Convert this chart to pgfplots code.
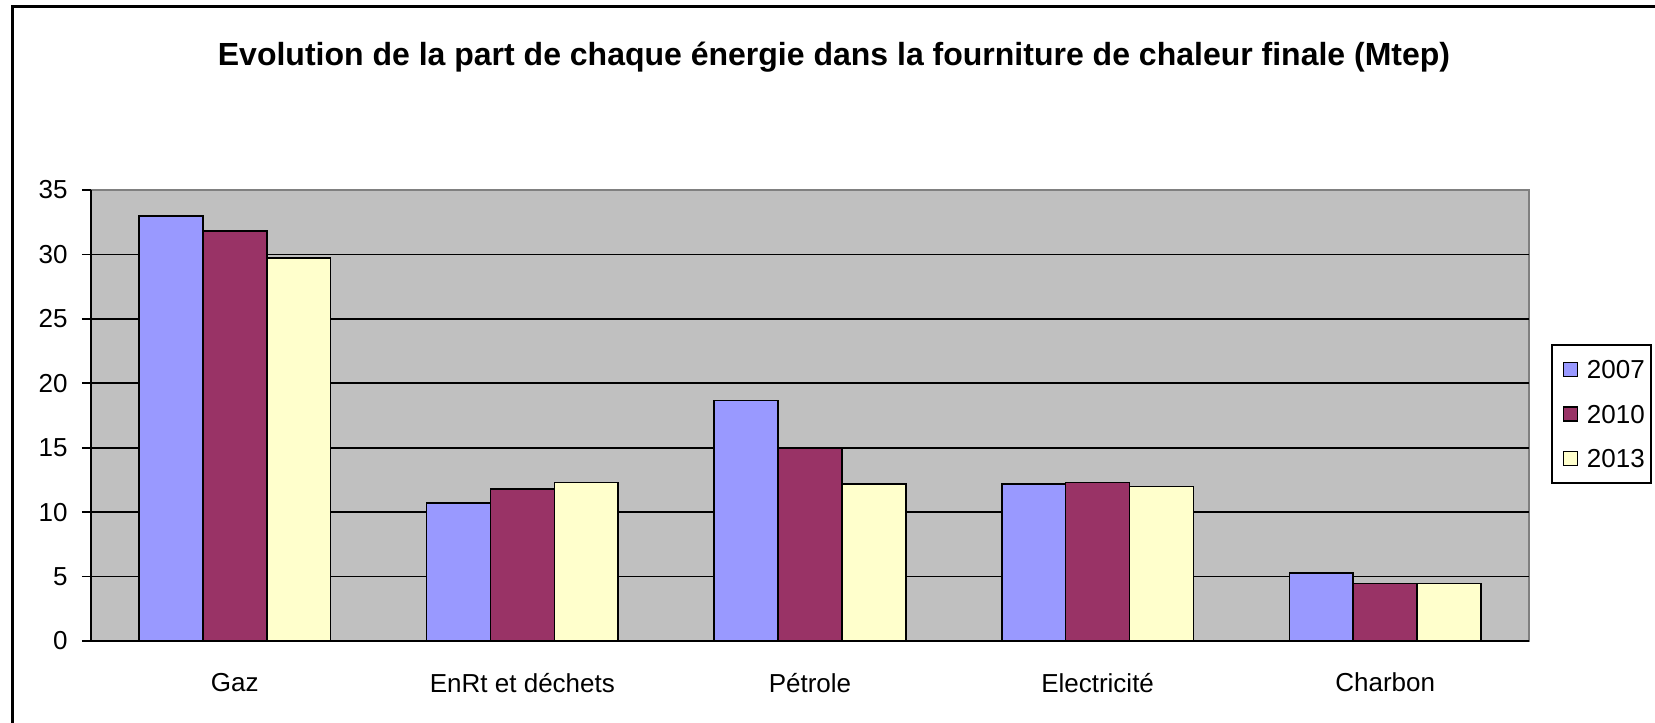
\documentclass[border=0pt]{standalone}
\usepackage{pgfplots}
\pgfplotsset{compat=1.18}
\usepackage{fontspec}
\setmainfont{Liberation Sans}
\definecolor{c2007}{HTML}{9999FF}
\definecolor{c2010}{HTML}{993366}
\definecolor{c2013}{HTML}{FFFFCC}
\definecolor{plotbg}{HTML}{C0C0C0}
\definecolor{plotframe}{HTML}{808080}
\begin{document}
\begin{tikzpicture}
\useasboundingbox (-45.5pt,-41pt) rectangle (782pt,320.5pt);
\draw[line width=1.5pt] (-39pt,-45pt) -- (-39pt,317pt) -- (790pt,317pt);
\node[font=\bfseries\fontsize{16}{19}\selectfont] at (371.5pt,292pt) {Evolution de la part de chaque énergie dans la fourniture de chaleur finale (Mtep)};
\begin{axis}[
  at={(0,0)}, anchor=south west,
  scale only axis,
  width=719pt, height=225.5pt,
  xmin=-0.5, xmax=4.5,
  ymin=0, ymax=35,
  axis lines=left,
  axis line style={-, black, line width=0.9pt},
  axis background/.style={fill=plotbg, draw=plotframe, line width=1pt},
  ytick={0,5,...,30},
  extra y ticks={35},
  extra y tick style={grid=none},
  ymajorgrids,
  major grid style={black, line width=0.8pt},
  xtick={0,1,2,3,4},
  xticklabels={Gaz, EnRt et déchets, Pétrole, Electricité, Charbon},
  minor xtick={-0.5,0.5,1.5,2.5,3.5,4.5},
  xtick style={draw=none},
  minor x tick style={black, line width=0.9pt},
  ytick style={black, line width=0.9pt},
  tick align=outside,
  major tick length=4.5pt,
  minor tick length=4.5pt,
  tick label style={font=\fontsize{13}{15}\selectfont},
  /pgf/number format/assume math mode=true,
  xticklabel style={anchor=north, inner sep=0pt, yshift=-11.3pt},
  yticklabel style={anchor=east, inner sep=0pt, xshift=-7pt},
  ybar=0pt,
  bar width=0.2222,
  legend style={at={(1.0155,0.6585)}, anchor=north west, draw=black, line width=0.8pt, fill=white,
    font=\fontsize{13}{15}\selectfont, row sep=12.75pt, column sep=4.5pt, inner xsep=3.2pt, inner ysep=7.5pt,
    nodes={inner sep=0pt, text height=9.5pt, text depth=0pt}},
  legend cell align=left,
  legend image code/.code={\path (-2pt,0pt); \draw[#1, line width=0.7pt] (0pt,-3.5pt) rectangle (7pt,3.5pt);},
]
\addplot[fill=c2007, draw=black, line width=0.8pt, bar shift=-0.2222] coordinates {(0,33.0) (1,10.7) (2,18.65) (3,12.2) (4,5.3)};
\addplot[fill=c2010, draw=black, line width=0.8pt, bar shift=0] coordinates {(0,31.8) (1,11.8) (2,15.0) (3,12.3) (4,4.47)};
\addplot[fill=c2013, draw=black, line width=0.8pt, bar shift=0.2222] coordinates {(0,29.7) (1,12.3) (2,12.2) (3,12.0) (4,4.47)};
\legend{2007,2010,2013}
\end{axis}
\end{tikzpicture}
\end{document}
